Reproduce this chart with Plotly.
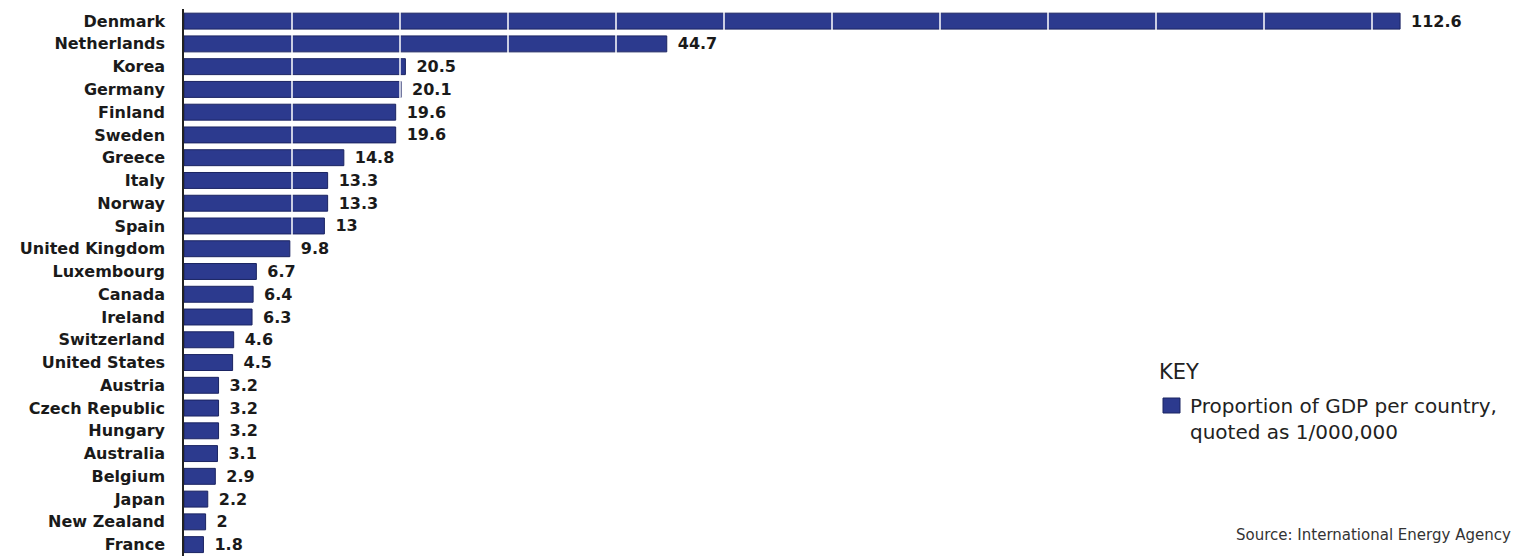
import plotly.graph_objects as go

countries = ["Denmark", "Netherlands", "Korea", "Germany", "Finland", "Sweden", "Greece",
             "Italy", "Norway", "Spain", "United Kingdom", "Luxembourg", "Canada", "Ireland",
             "Switzerland", "United States", "Austria", "Czech Republic", "Hungary",
             "Australia", "Belgium", "Japan", "New Zealand", "France"]
values = [112.6, 44.7, 20.5, 20.1, 19.6, 19.6, 14.8, 13.3, 13.3, 13, 9.8, 6.7, 6.4, 6.3,
          4.6, 4.5, 3.2, 3.2, 3.2, 3.1, 2.9, 2.2, 2, 1.8]
grid_values = [10, 20, 30, 40, 50, 60, 70, 80, 90, 100, 110]

series_name = "Proportion of GDP per country,<br>quoted as 1/000,000"
key_title = "KEY"
source_text = "Source: International Energy Agency"

BAR = "#2c3a8e"
BAR_EDGE = "#1b2462"
TXT = "#1a1a1a"

fig = go.Figure()
fig.add_trace(go.Bar(
    x=values, y=countries, orientation="h",
    marker=dict(color=BAR, line=dict(color=BAR_EDGE, width=1)),
    width=0.7,
    texttemplate="\u2002%{x}", textposition="outside", cliponaxis=False,
    constraintext="none",
    textfont=dict(family="DejaVu Sans", size=16, weight="bold", color=TXT),
    name=series_name, showlegend=False,
))

# white dividers across the bars, only over the bars that reach them
for g in grid_values:
    k = sum(1 for v in values if v > g)
    if k == 0:
        continue
    fig.add_shape(type="line", xref="x", yref="y", x0=g, x1=g, y0=-0.5, y1=k - 0.5,
                  line=dict(color="white", width=1.5), layer="above")

L, T, W, H = 184, 9, 1333, 547
def px(x):
    return (x - L) / W
def py(y):
    return (T + H - y) / H

fig.add_annotation(x=px(1157), y=py(372), xref="paper", yref="paper", text=key_title,
                   showarrow=False, xanchor="left", yanchor="middle",
                   font=dict(family="DejaVu Sans", size=21, color="#222222"))
fig.add_annotation(x=px(1188), y=py(392), xref="paper", yref="paper", text=series_name,
                   showarrow=False, xanchor="left", yanchor="top", align="left",
                   font=dict(family="DejaVu Sans", size=20, color="#222222"))
fig.add_shape(type="rect", xref="paper", yref="paper",
              x0=px(1163), x1=px(1180), y0=py(413), y1=py(398),
              fillcolor=BAR, line=dict(color=BAR_EDGE, width=1))
fig.add_annotation(x=px(1513), y=py(535), xref="paper", yref="paper", text=source_text,
                   showarrow=False, xanchor="right", yanchor="middle",
                   font=dict(family="DejaVu Sans", size=15, color="#333333"))

fig.update_layout(
    width=1517, height=556,
    margin=dict(l=L, r=0, t=T, b=0),
    paper_bgcolor="white", plot_bgcolor="white",
    bargap=0.3,
)
fig.update_xaxes(range=[0, W / 10.8], showgrid=False, zeroline=False,
                 showticklabels=False, ticks="", showline=False)
fig.update_yaxes(autorange="reversed", showgrid=False, zeroline=False,
                 showline=True, linecolor="#222222", linewidth=1.5,
                 ticks="", ticklabelstandoff=14,
                 tickfont=dict(family="DejaVu Sans", size=16, weight="bold", color=TXT))

fig.write_html("out.html")
